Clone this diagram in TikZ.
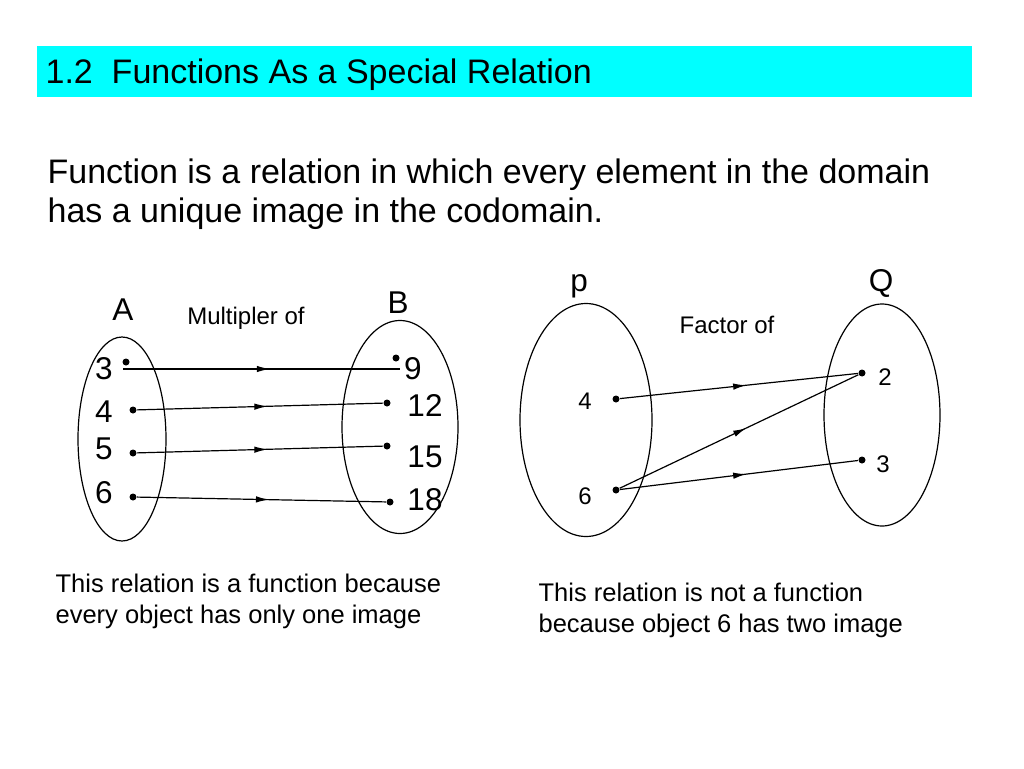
\documentclass[tikz,border=0pt]{standalone}
\usepackage        {fontspec}
\setmainfont       {Liberation Sans}
\usetikzlibrary    {arrows.meta,decorations.markings,shapes.geometric}
\definecolor{titlecyan}{RGB}{0,255,255}

\begin{document}
\begin{tikzpicture}
  [x=1pt,y=-1pt,line width=1.2pt,
   dot/.style={circle,fill=black,inner sep=0pt,minimum size=7pt},
   big/.style={font=\fontsize{31.5}{36}\selectfont,inner sep=0pt},
   small/.style={font=\fontsize{24}{29}\selectfont,inner sep=0pt},
   note/.style={font=\fontsize{25.5}{31.5}\selectfont,inner sep=0pt,align=left,anchor=north west},
   set/.style={draw,ellipse,inner sep=0pt},
   midarrow/.style={postaction={decorate},decoration={markings,
     mark=at position 0.53 with {\arrow{Latex[length=13pt,width=6.5pt]}}}}]
  \useasboundingbox (0,0) rectangle (1024,768);
  \fill[white] (0,0) rectangle (1024,768);

  % heading
  \fill[titlecyan] (37,46) rectangle (972,97);
  \node[anchor=base west,inner sep=0pt,font=\fontsize{34}{40}\selectfont] (title) at (45,83) {1.2~ Functions As a Special Relation};
  \node[anchor=north west,inner sep=0pt,align=left,font=\fontsize{34}{39}\selectfont] (defn) at (47,158)
    {Function is a relation in which every element in the domain\\has a unique image in the codomain.};

  % multipler of
  \node[set,minimum width=88pt,minimum height=204pt] (setA) at (122,439) {};
  \node[set,minimum width=116pt,minimum height=213pt] (setB) at (400,427) {};
  \node[big] (A) at (123,310) {A};
  \node[big] (B) at (398,303) {B};
  \node[small] (mult) at (246,318) {Multipler of};

  \node[big] (n3) at (104,369) {3};
  \node[big] (n4) at (104,412) {4};
  \node[big] (n5) at (104,449) {5};
  \node[big] (n6) at (104,493) {6};
  \node[big] (n9) at (413,369) {9};
  \node[big] (n12) at (425,405) {12};
  \node[big] (n15) at (425,457) {15};
  \node[big] (n18) at (425,500) {18};

  \node[dot] (d3) at (126,362) {};
  \node[dot] (d4) at (133,410) {};
  \node[dot] (d5) at (133,453) {};
  \node[dot] (d6) at (133,497) {};
  \node[dot] (e9) at (396,358) {};
  \node[dot] (e12) at (387,403) {};
  \node[dot] (e15) at (387,446) {};
  \node[dot] (e18) at (390,502) {};
  \coordinate (s3) at (123,369);
  \coordinate (t9) at (400,369);

    \draw[midarrow] (s3) -- (t9);
    \draw[midarrow] (d4) -- (e12);
    \draw[midarrow] (d5) -- (e15);
    \draw[midarrow] (d6) -- (e18);

  % factor of
  \node[set,minimum width=132pt,minimum height=233pt] (setP) at (586,420) {};
  \node[set,minimum width=116pt,minimum height=222pt] (setQ) at (882,415) {};
  \node[big] (p) at (579,286) {p};
  \node[big] (Q) at (881,283) {Q};
  \node[small] (fact) at (727,325) {Factor of};

  \node[small] (m4) at (585,401) {4};
  \node[small] (m6) at (585,496) {6};
  \node[small] (m2) at (885,377) {2};
  \node[small] (m3) at (883,464) {3};

  \node[dot] (f4) at (616,399) {};
  \node[dot] (f6) at (616,490) {};
  \node[dot] (g2) at (862,373) {};
  \node[dot] (g3) at (862,460) {};

    \draw[midarrow] (f4) -- (g2);
    \draw[midarrow] (f6) -- (g2);
    \draw[midarrow] (f6) -- (g3);

  % remarks
  \node[note] (noteL) at (55,573) {This relation is a function because\\every object has only one image};
  \node[note] (noteR) at (538,582) {This relation is not a function\\because object 6 has two image};
\end{tikzpicture}
\end{document}
